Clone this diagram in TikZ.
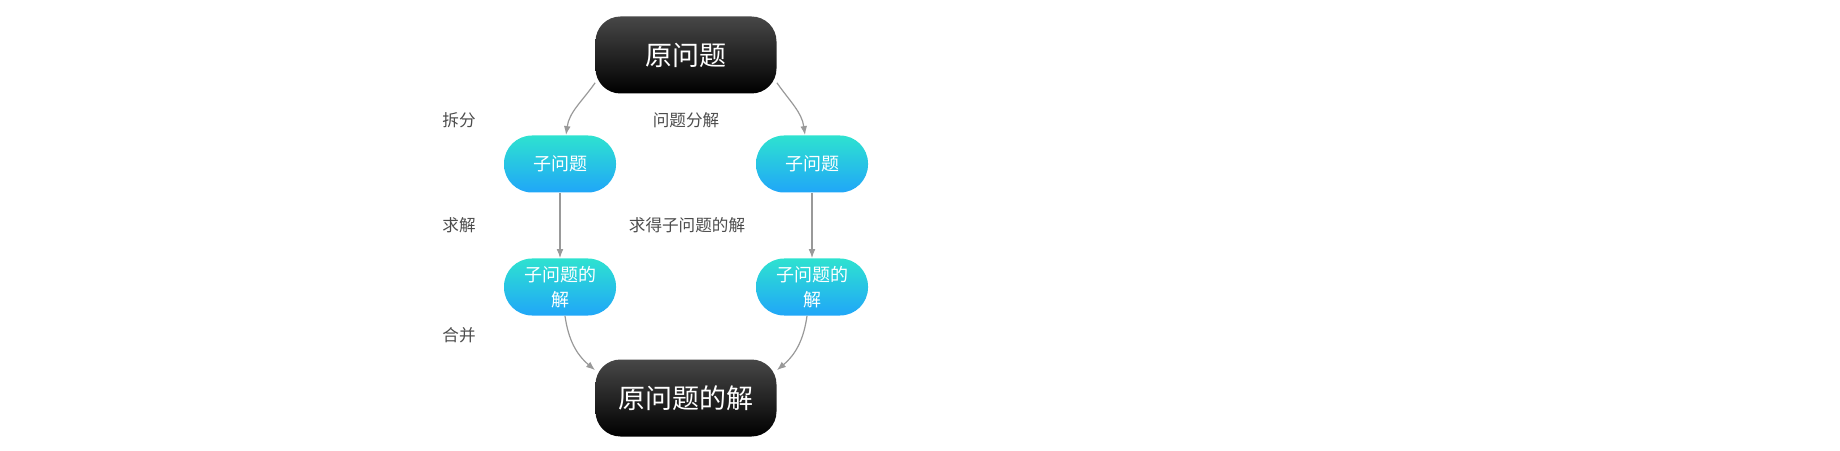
\documentclass[tikz,border=0pt]{standalone}
\usepackage{fontspec}
\setmainfont{Noto Sans CJK SC}
\usetikzlibrary{arrows.meta}

\begin{document}
\begin{tikzpicture}[x=0.5pt,y=0.5pt]
\tikzstyle{every node}+=[inner sep=0pt]
\tikzstyle{bigbox}=[rounded corners=12.5pt, minimum width=90.5pt, minimum height=38.5pt,
  top color=black!72, bottom color=black, text=white, font=\fontsize{13.5}{15}\selectfont]
\tikzstyle{subbox}=[rounded corners=14pt, minimum width=56pt, minimum height=28.5pt,
  top color={rgb,255:red,46;green,226;blue,208}, bottom color={rgb,255:red,32;green,166;blue,248},
  text=white, align=center, font=\fontsize{9}{12.5}\selectfont]
\tikzstyle{lbl}=[text=black!70, font=\fontsize{8.3}{10}\selectfont]
\tikzstyle{conn}=[draw=black!40, line width=0.6pt, -{Latex[length=4.5pt,width=3.4pt]}]
\useasboundingbox (0,0) rectangle (1840,450);

\node [bigbox] (top) at (686,395) {原问题};
\node [bigbox] (bot) at (686,52) {原问题的解};

\node [subbox] (s1) at (560,286) {子问题};
\node [subbox] (s2) at (812,286) {子问题};
\node [subbox] (r1) at (560,163) {子问题的\\解};
\node [subbox] (r2) at (812,163) {子问题的\\解};

\node [lbl] (chai) at (459,330) {拆分};
\node [lbl] (fenjie) at (686,330) {问题分解};
\node [lbl] (qiu) at (459,225) {求解};
\node [lbl] (qiude) at (687,225) {求得子问题的解};
\node [lbl] (hebing) at (459,115) {合并};

\draw [conn] (top.197) to[out=235,in=82] ([xshift=3pt]s1.north);
\draw [conn] (top.-17) to[out=-55,in=98] ([xshift=-3.5pt]s2.north);
\draw [conn] (s1) -- (r1);
\draw [conn] (s2) -- (r2);
\draw [conn] ([xshift=2.5pt]r1.south) to[out=-82,in=140] (bot.163);
\draw [conn] ([xshift=-2.5pt]r2.south) to[out=-98,in=40] (bot.17);
\end{tikzpicture}
\end{document}
